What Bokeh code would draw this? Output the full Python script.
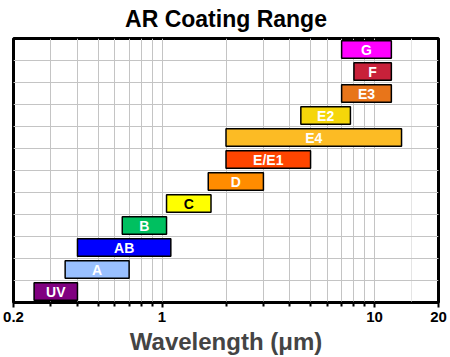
import numpy as np
from bokeh.plotting import figure
from bokeh.models import ColumnDataSource, FixedTicker, Grid, LogAxis, Range1d
from bokeh.core.properties import value
from bokeh.embed import file_html
from bokeh.resources import INLINE

# Data
coatings = ["UV", "A", "AB", "B", "C", "D", "E/E1", "E4", "E2", "E3", "F", "G"]
start_um = [0.25, 0.35, 0.40, 0.65, 1.05, 1.65, 2.0, 2.0, 4.5, 7.0, 8.0, 7.0]
end_um = [0.40, 0.70, 1.10, 1.05, 1.70, 3.0, 5.0, 13.4, 7.7, 12.0, 12.0, 12.0]
colors = ["#800080", "#99C0FF", "#0000FF", "#00C060", "#FFFF00", "#FF8C00",
          "#FF4500", "#FCBB24", "#F5D60A", "#E8751A", "#C8213A", "#FF00FF"]
label_colors = ["white", "white", "white", "white", "black", "white",
                "white", "white", "white", "white", "white", "white"]
major_ticks = [0.2, 1, 10, 20]
minor_ticks = [0.3, 0.4, 0.5, 0.6, 0.7, 0.8, 0.9, 2, 3, 4, 5, 6, 7, 8, 9]
row_lines = [1, 2, 3, 4, 5, 6, 7, 8, 9, 10, 11]
title_text = "AR Coating Range"

rows = np.arange(len(coatings)) + 0.5
src = ColumnDataSource(dict(
    name=coatings, left=start_um, right=end_um, color=colors,
    lc=label_colors, y=rows,
    xc=np.sqrt(np.array(start_um) * np.array(end_um)),
))

FONT = "Liberation Sans"

p = figure(width=450, height=357, x_axis_type="log",
           x_range=Range1d(0.2, 20), y_range=Range1d(0, 12),
           output_backend="svg", toolbar_location=None,
           x_axis_location=None, y_axis_location=None,
           min_border_left=13, min_border_right=12,
           min_border_top=37, min_border_bottom=55,
           title=title_text)

p.title.align = "center"
p.title.vertical_align = "top"
p.title.text_font = FONT
p.title.text_font_size = "23px"
p.title.text_font_style = "bold"
p.title.text_color = "black"
p.title.standoff = 10

p.outline_line_color = "black"
p.outline_line_width = 3
p.background_fill_color = "white"
p.border_fill_color = "white"

ticker = FixedTicker(ticks=major_ticks, minor_ticks=minor_ticks)
xaxis = LogAxis(ticker=ticker)
xaxis.axis_label = "Wavelength (μm)"
xaxis.axis_label_text_font = FONT
xaxis.axis_label_text_font_size = "24px"
xaxis.axis_label_text_font_style = "bold"
xaxis.axis_label_standoff = 3
xaxis.major_label_text_font = FONT
xaxis.major_label_text_font_size = "15px"
xaxis.major_label_text_font_style = "bold"
xaxis.major_label_text_color = "black"
xaxis.major_label_standoff = 4
xaxis.axis_line_width = 2
xaxis.axis_line_color = "black"
xaxis.major_tick_line_width = 2
xaxis.minor_tick_line_width = 2
xaxis.major_tick_out = 5
xaxis.major_tick_in = 0
xaxis.minor_tick_out = 4
xaxis.minor_tick_in = 0
p.add_layout(xaxis, "below")

xgrid = Grid(dimension=0, ticker=ticker)
xgrid.grid_line_color = "#C4C4C4"
xgrid.grid_line_width = 1
xgrid.minor_grid_line_color = "#C4C4C4"
xgrid.minor_grid_line_width = 1
p.add_layout(xgrid, "center")

ygrid = Grid(dimension=1, ticker=FixedTicker(ticks=row_lines))
ygrid.grid_line_color = "#C4C4C4"
ygrid.grid_line_width = 1
p.add_layout(ygrid, "center")

p.hbar(y="y", left="left", right="right", height=0.8, source=src,
       fill_color="color", line_color="black", line_width=1.5)

p.text(x="xc", y="y", text="name", source=src, text_color="lc",
       text_font=value(FONT), text_font_style="bold", text_font_size="14px",
       text_align="center", text_baseline="middle")

open("out.html", "w").write(file_html(p, INLINE))
